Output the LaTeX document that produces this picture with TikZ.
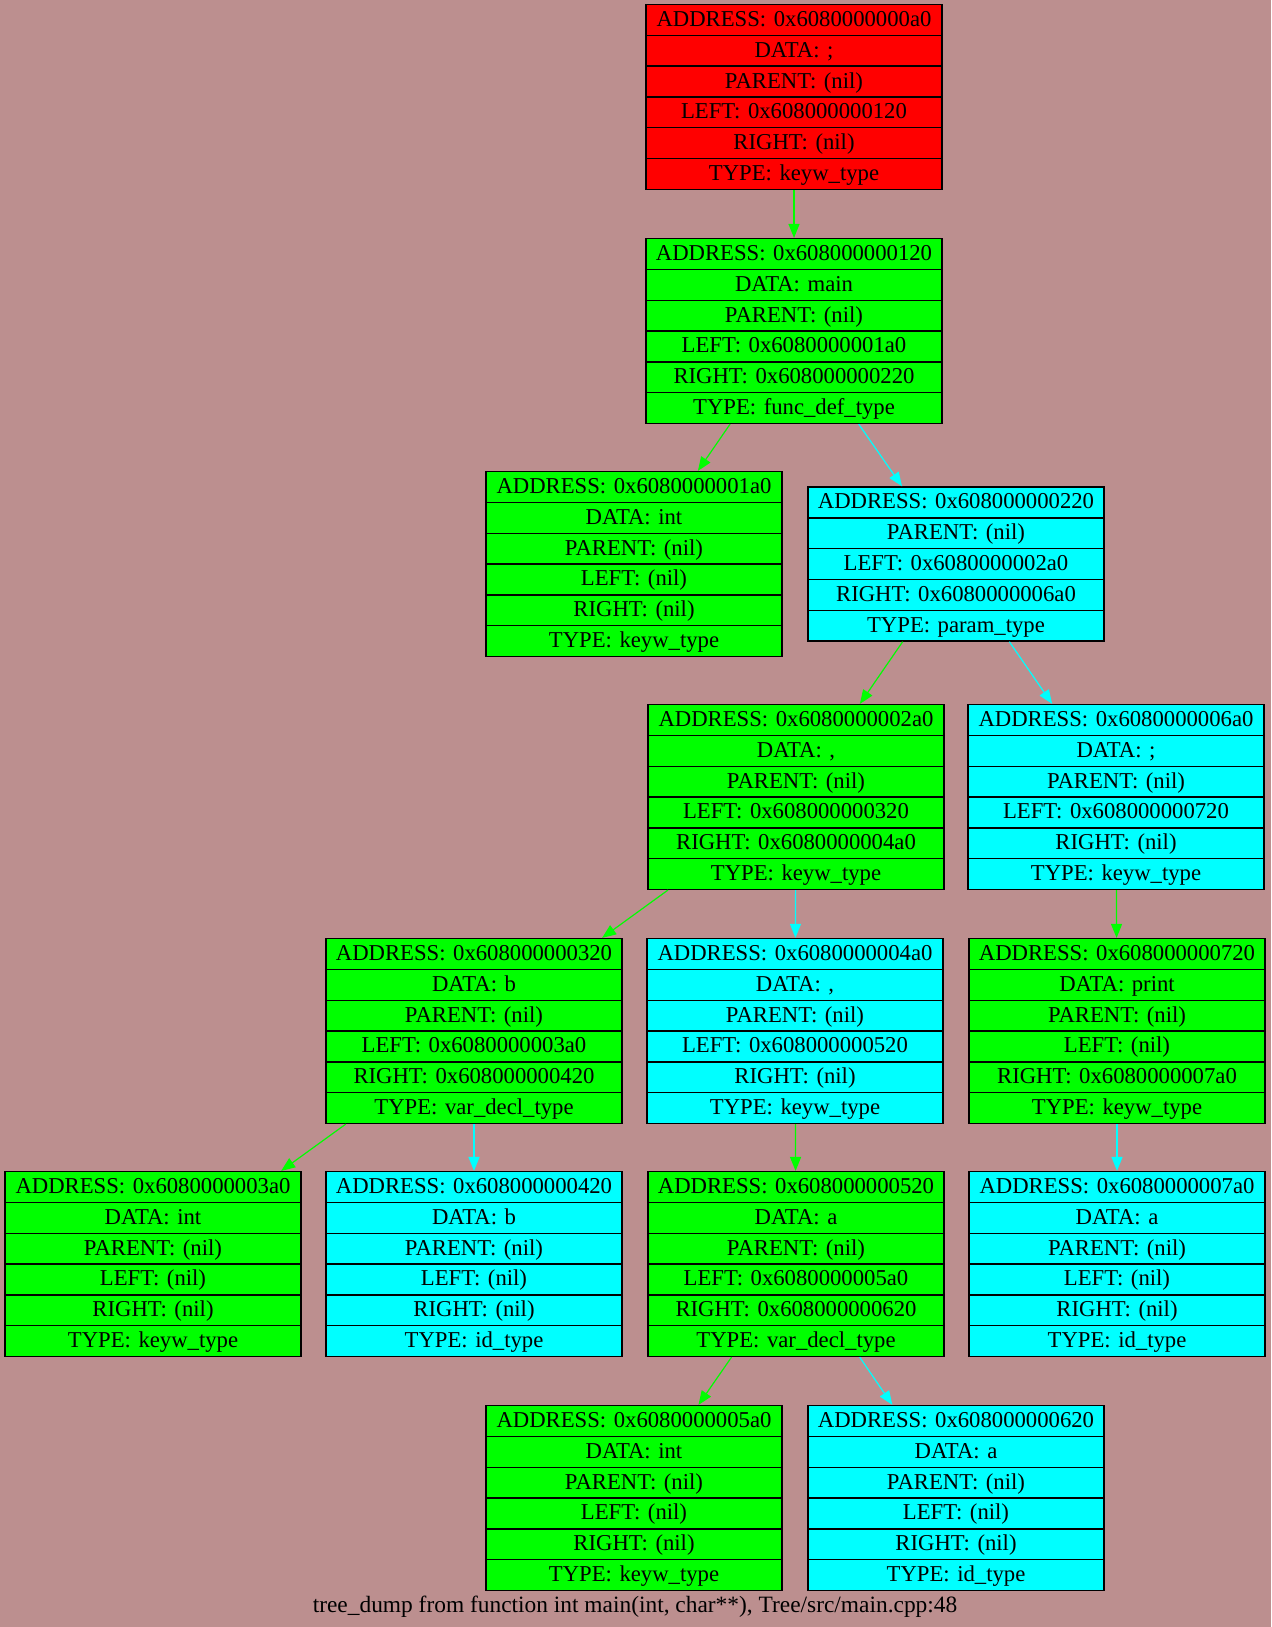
\documentclass[tikz,border=0pt]{standalone}
\usepackage{fontspec}
\setmainfont{Liberation Serif}
\usetikzlibrary{shapes.multipart,arrows.meta}
\definecolor{dumpbg}{RGB}{188,143,143}
\definecolor{nodered}{RGB}{255,0,0}
\definecolor{nodegreen}{RGB}{0,255,0}
\definecolor{nodecyan}{RGB}{0,255,255}
\newcommand{\rowfix}{\rule[-4.1pt]{0pt}{14.7pt}}
\begin{document}
\begin{tikzpicture}[x=0.5pt,y=-0.5pt,
    rec/.style={draw=black,line width=0.7pt,rectangle split,
      inner xsep=0pt,inner ysep=0pt,text width=148pt,align=center,
      font=\fontsize{11.35}{13}\selectfont},
    recsix/.style={rec,rectangle split parts=6},
    recfive/.style={rec,rectangle split parts=5},
    leftedge/.style={draw=nodegreen,line width=0.6pt,
      -{Triangle[length=7pt,width=5.5pt]}},
    rightedge/.style={draw=nodecyan,line width=0.6pt,
      -{Triangle[length=7pt,width=5.5pt]}}]
  \fill[dumpbg]
    (0,0)
    rectangle
    (1271,1627);
  \node[recsix,fill=nodered] (n0a0) at (794,97)
    {\rowfix ADDRESS: 0x6080000000a0
     \nodepart{two}\rowfix DATA: ;
     \nodepart{three}\rowfix PARENT: (nil)
     \nodepart{four}\rowfix LEFT: 0x608000000120
     \nodepart{five}\rowfix RIGHT: (nil)
     \nodepart{six}\rowfix TYPE: keyw\_type};
  \node[recsix,fill=nodegreen] (n120) at (794,331)
    {\rowfix ADDRESS: 0x608000000120
     \nodepart{two}\rowfix DATA: main
     \nodepart{three}\rowfix PARENT: (nil)
     \nodepart{four}\rowfix LEFT: 0x6080000001a0
     \nodepart{five}\rowfix RIGHT: 0x608000000220
     \nodepart{six}\rowfix TYPE: func\_def\_type};
  \node[recsix,fill=nodegreen] (n1a0) at (634,564)
    {\rowfix ADDRESS: 0x6080000001a0
     \nodepart{two}\rowfix DATA: int
     \nodepart{three}\rowfix PARENT: (nil)
     \nodepart{four}\rowfix LEFT: (nil)
     \nodepart{five}\rowfix RIGHT: (nil)
     \nodepart{six}\rowfix TYPE: keyw\_type};
  \node[recfive,fill=nodecyan] (n220) at (956,564)
    {\rowfix ADDRESS: 0x608000000220
     \nodepart{two}\rowfix PARENT: (nil)
     \nodepart{three}\rowfix LEFT: 0x6080000002a0
     \nodepart{four}\rowfix RIGHT: 0x6080000006a0
     \nodepart{five}\rowfix TYPE: param\_type};
  \node[recsix,fill=nodegreen] (n2a0) at (796,797)
    {\rowfix ADDRESS: 0x6080000002a0
     \nodepart{two}\rowfix DATA: ,
     \nodepart{three}\rowfix PARENT: (nil)
     \nodepart{four}\rowfix LEFT: 0x608000000320
     \nodepart{five}\rowfix RIGHT: 0x6080000004a0
     \nodepart{six}\rowfix TYPE: keyw\_type};
  \node[recsix,fill=nodecyan] (n6a0) at (1116,797)
    {\rowfix ADDRESS: 0x6080000006a0
     \nodepart{two}\rowfix DATA: ;
     \nodepart{three}\rowfix PARENT: (nil)
     \nodepart{four}\rowfix LEFT: 0x608000000720
     \nodepart{five}\rowfix RIGHT: (nil)
     \nodepart{six}\rowfix TYPE: keyw\_type};
  \node[recsix,fill=nodegreen] (n320) at (474,1031)
    {\rowfix ADDRESS: 0x608000000320
     \nodepart{two}\rowfix DATA: b
     \nodepart{three}\rowfix PARENT: (nil)
     \nodepart{four}\rowfix LEFT: 0x6080000003a0
     \nodepart{five}\rowfix RIGHT: 0x608000000420
     \nodepart{six}\rowfix TYPE: var\_decl\_type};
  \node[recsix,fill=nodecyan] (n4a0) at (795,1031)
    {\rowfix ADDRESS: 0x6080000004a0
     \nodepart{two}\rowfix DATA: ,
     \nodepart{three}\rowfix PARENT: (nil)
     \nodepart{four}\rowfix LEFT: 0x608000000520
     \nodepart{five}\rowfix RIGHT: (nil)
     \nodepart{six}\rowfix TYPE: keyw\_type};
  \node[recsix,fill=nodegreen] (n720) at (1117,1031)
    {\rowfix ADDRESS: 0x608000000720
     \nodepart{two}\rowfix DATA: print
     \nodepart{three}\rowfix PARENT: (nil)
     \nodepart{four}\rowfix LEFT: (nil)
     \nodepart{five}\rowfix RIGHT: 0x6080000007a0
     \nodepart{six}\rowfix TYPE: keyw\_type};
  \node[recsix,fill=nodegreen] (n3a0) at (153,1264)
    {\rowfix ADDRESS: 0x6080000003a0
     \nodepart{two}\rowfix DATA: int
     \nodepart{three}\rowfix PARENT: (nil)
     \nodepart{four}\rowfix LEFT: (nil)
     \nodepart{five}\rowfix RIGHT: (nil)
     \nodepart{six}\rowfix TYPE: keyw\_type};
  \node[recsix,fill=nodecyan] (n420) at (474,1264)
    {\rowfix ADDRESS: 0x608000000420
     \nodepart{two}\rowfix DATA: b
     \nodepart{three}\rowfix PARENT: (nil)
     \nodepart{four}\rowfix LEFT: (nil)
     \nodepart{five}\rowfix RIGHT: (nil)
     \nodepart{six}\rowfix TYPE: id\_type};
  \node[recsix,fill=nodegreen] (n520) at (796,1264)
    {\rowfix ADDRESS: 0x608000000520
     \nodepart{two}\rowfix DATA: a
     \nodepart{three}\rowfix PARENT: (nil)
     \nodepart{four}\rowfix LEFT: 0x6080000005a0
     \nodepart{five}\rowfix RIGHT: 0x608000000620
     \nodepart{six}\rowfix TYPE: var\_decl\_type};
  \node[recsix,fill=nodecyan] (n7a0) at (1117,1264)
    {\rowfix ADDRESS: 0x6080000007a0
     \nodepart{two}\rowfix DATA: a
     \nodepart{three}\rowfix PARENT: (nil)
     \nodepart{four}\rowfix LEFT: (nil)
     \nodepart{five}\rowfix RIGHT: (nil)
     \nodepart{six}\rowfix TYPE: id\_type};
  \node[recsix,fill=nodegreen] (n5a0) at (634,1498)
    {\rowfix ADDRESS: 0x6080000005a0
     \nodepart{two}\rowfix DATA: int
     \nodepart{three}\rowfix PARENT: (nil)
     \nodepart{four}\rowfix LEFT: (nil)
     \nodepart{five}\rowfix RIGHT: (nil)
     \nodepart{six}\rowfix TYPE: keyw\_type};
  \node[recsix,fill=nodecyan] (n620) at (956,1498)
    {\rowfix ADDRESS: 0x608000000620
     \nodepart{two}\rowfix DATA: a
     \nodepart{three}\rowfix PARENT: (nil)
     \nodepart{four}\rowfix LEFT: (nil)
     \nodepart{five}\rowfix RIGHT: (nil)
     \nodepart{six}\rowfix TYPE: id\_type};
  \node[font=\fontsize{11.7}{13}\selectfont,inner sep=0pt] (caption) at (635,1607)
    {tree\_dump from function int main(int, char**), Tree/src/main.cpp:48};
  \draw[leftedge]
    (n0a0)
    --
    (n120);
  \draw[leftedge]
    (n120)
    --
    (n1a0);
  \draw[rightedge]
    (n120)
    --
    (n220);
  \draw[leftedge]
    (n220)
    --
    (n2a0);
  \draw[rightedge]
    (n220)
    --
    (n6a0);
  \draw[leftedge]
    (n2a0)
    --
    (n320);
  \draw[rightedge]
    (n2a0)
    --
    (n4a0);
  \draw[leftedge]
    (n6a0)
    --
    (n720);
  \draw[leftedge]
    (n320)
    --
    (n3a0);
  \draw[rightedge]
    (n320)
    --
    (n420);
  \draw[leftedge]
    (n4a0)
    --
    (n520);
  \draw[rightedge]
    (n720)
    --
    (n7a0);
  \draw[leftedge]
    (n520)
    --
    (n5a0);
  \draw[rightedge]
    (n520)
    --
    (n620);
\end{tikzpicture}
\end{document}
